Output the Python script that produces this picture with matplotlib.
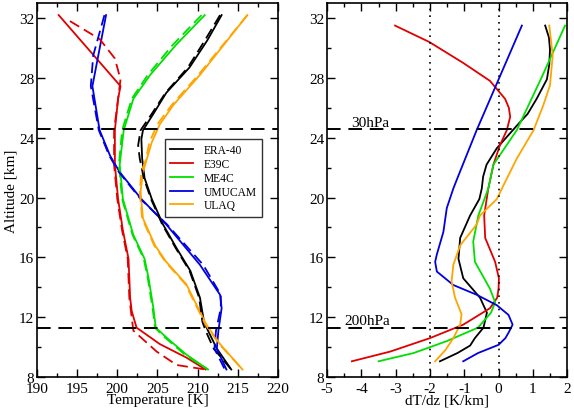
import matplotlib
matplotlib.use("Agg")
import matplotlib.pyplot as plt
from matplotlib.ticker import MultipleLocator

plt.rcParams['font.family'] = ['Liberation Serif', 'DejaVu Serif']
plt.rcParams['axes.unicode_minus'] = False

models = ['ERA-40', 'E39C', 'ME4C', 'UMUCAM', 'ULAQ']
colors = ['black', '#e00000', '#00e000', '#0000e0', '#ffa500']

# temperature profiles (solid), altitude in km
era_z = [32.2, 30.5, 28.7, 27.0, 25.6, 24.5, 23.9, 22.6, 21.3, 19.9, 18.2, 16.6, 15.1, 13.3, 11.7, 11.1, 9.9, 8.5]
era_t = [213.0, 211.2, 209.0, 206.1, 204.5, 203.2, 203.0, 203.1, 203.4, 204.3, 205.7, 207.4, 209.1, 210.3, 210.8, 211.3, 212.4, 214.2]
e39_z = [32.2, 27.45, 26.6, 24.5, 22.2, 19.9, 17.8, 15.9, 13.3, 12.4, 11.3, 10.2, 9.3, 8.5]
e39_t = [192.7, 200.4, 200.1, 199.7, 199.7, 200.1, 200.7, 201.4, 201.6, 201.8, 202.4, 205.3, 208.6, 211.0]
me4_z = [32.2, 30.2, 28.2, 26.6, 24.5, 22.2, 19.9, 17.5, 15.9, 14.6, 12.6, 11.3, 10.6, 9.5, 8.5]
me4_t = [210.9, 207.3, 204.1, 202.0, 200.8, 200.3, 200.7, 202.0, 203.4, 203.9, 204.5, 204.8, 206.2, 208.6, 211.3]
umu_z = [32.2, 27.45, 24.5, 22.8, 21.7, 19.9, 18.2, 15.5, 13.5, 12.6, 11.1, 9.9, 8.5]
umu_t = [198.6, 196.9, 197.8, 199.1, 200.3, 203.0, 206.1, 210.3, 212.8, 213.0, 212.6, 212.4, 213.6]
ulq_z = [32.2, 28.2, 26.2, 24.9, 23.7, 21.7, 20.4, 18.6, 16.8, 15.7, 14.2, 11.5, 10.2, 8.5]
ulq_t = [216.2, 210.3, 207.0, 205.3, 204.3, 203.2, 202.9, 203.2, 204.7, 206.1, 208.6, 211.1, 212.8, 215.6]

# temperature profiles (dashed)
era_zd = [32.2, 30.5, 28.7, 27.0, 25.6, 24.5, 23.5, 22.6, 21.3, 19.9, 18.2, 16.6, 15.1, 13.3, 11.7, 11.1, 9.9, 8.5]
era_td = [212.8, 210.9, 208.8, 206.0, 204.3, 202.9, 202.6, 202.8, 203.3, 204.2, 205.6, 207.3, 209.0, 210.2, 210.6, 211.0, 212.0, 214.2]
e39_zd = [31.8, 30.6, 29.3, 27.9, 26.6, 24.5, 22.2, 19.9, 17.8, 15.9, 13.3, 12.4, 11.1, 9.7, 8.8, 8.5]
e39_td = [194.1, 197.8, 199.7, 200.4, 200.1, 199.6, 199.6, 200.0, 200.6, 201.3, 201.5, 201.7, 202.0, 204.9, 207.4, 211.0]
me4_zd = [32.2, 30.2, 28.2, 26.6, 24.5, 22.2, 19.9, 17.5, 15.9, 14.6, 12.6, 11.3, 10.8, 9.5, 8.5]
me4_td = [210.5, 206.9, 203.8, 201.8, 200.6, 200.2, 200.6, 201.9, 203.3, 203.8, 204.4, 204.7, 205.6, 208.4, 211.3]
umu_zd = [32.2, 29.5, 27.45, 24.5, 22.8, 21.7, 19.9, 18.2, 15.5, 13.5, 12.6, 11.1, 9.9, 8.5]
umu_td = [198.4, 197.0, 196.7, 197.7, 199.0, 200.2, 202.9, 206.2, 210.7, 212.9, 212.9, 212.3, 212.1, 213.4]
ulq_zd = [32.2, 28.2, 26.2, 24.9, 23.7, 22.6, 21.7, 20.4, 18.6, 16.8, 15.7, 14.2, 11.5, 10.2, 8.5]
ulq_td = [216.2, 210.1, 206.8, 205.0, 204.0, 203.6, 203.0, 202.8, 203.1, 204.6, 206.0, 208.5, 211.0, 212.7, 215.6]

# lapse rate profiles
era_gz = [31.5, 30.7, 29.9, 28.9, 27.9, 26.6, 25.6, 24.8, 24.0, 23.3, 22.2, 21.4, 20.6, 19.9, 18.8, 17.3, 15.9, 14.6, 13.3, 12.3, 11.3, 10.6, 10.1, 9.6, 9.05]
era_g = [1.36, 1.47, 1.50, 1.48, 1.41, 1.11, 0.85, 0.53, 0.22, -0.05, -0.35, -0.45, -0.49, -0.56, -0.83, -1.12, -1.17, -1.03, -0.54, -0.34, -0.44, -0.69, -0.83, -1.2, -1.71]
e39_gz = [31.5, 30.4, 29.0, 27.8, 26.6, 26.0, 25.4, 24.5, 23.5, 22.2, 20.6, 18.8, 17.3, 15.7, 14.6, 13.9, 13.3, 12.6, 11.5, 10.6, 9.7, 9.05]
e39_g = [-3.02, -2.02, -1.03, -0.25, 0.19, 0.30, 0.34, 0.24, 0.04, -0.15, -0.30, -0.42, -0.39, -0.10, 0.01, 0.00, -0.04, -0.25, -1.03, -2.00, -3.16, -4.28]
me4_gz = [31.5, 28.0, 24.5, 22.2, 20.6, 18.8, 17.05, 15.7, 13.9, 13.0, 12.3, 11.3, 10.4, 9.6, 9.05]
me4_g = [1.94, 1.25, 0.53, -0.15, -0.30, -0.59, -0.74, -0.69, -0.25, -0.10, -0.22, -0.60, -1.51, -2.48, -3.50]
umu_gz = [31.5, 24.5, 21.3, 20.6, 19.3, 17.7, 16.2, 15.7, 15.05, 14.15, 13.5, 12.8, 12.15, 11.5, 11.0, 10.6, 10.15, 9.6, 9.05]
umu_g = [0.68, -0.64, -1.20, -1.32, -1.51, -1.61, -1.80, -1.85, -1.80, -1.32, -0.64, -0.05, 0.29, 0.41, 0.30, 0.20, 0.00, -0.60, -1.03]
ulq_gz = [31.5, 29.5, 27.5, 26.2, 24.5, 22.6, 20.8, 19.9, 18.8, 18.2, 16.8, 15.5, 14.4, 13.3, 12.2, 11.5, 10.6, 9.8, 9.05]
ulq_g = [1.48, 1.58, 1.50, 1.31, 1.02, 0.53, 0.14, -0.05, -0.54, -0.64, -1.12, -1.32, -1.37, -1.27, -1.08, -1.12, -1.32, -1.55, -1.85]

p_levels = ['30hPa', '200hPa']
p_alt = [24.55, 11.3]

solid_t = [era_t, e39_t, me4_t, umu_t, ulq_t]
solid_z = [era_z, e39_z, me4_z, umu_z, ulq_z]
dash_t = [era_td, e39_td, me4_td, umu_td, ulq_td]
dash_z = [era_zd, e39_zd, me4_zd, umu_zd, ulq_zd]
grad_g = [era_g, e39_g, me4_g, umu_g, ulq_g]
grad_z = [era_gz, e39_gz, me4_gz, umu_gz, ulq_gz]

fig = plt.figure(figsize=(5.74, 4.14), dpi=100)
ax1 = fig.add_axes([0.0645, 0.087, 0.4195, 0.903])
ax2 = fig.add_axes([0.570, 0.087, 0.418, 0.903])

for t, z, c, m in zip(solid_t, solid_z, colors, models):
    ax1.plot(t, z, color=c, lw=1.3, label=m)
for t, z, c in zip(dash_t, dash_z, colors):
    ax1.plot(t, z, color=c, lw=1.3, ls=(0, (6, 3)))
for a in p_alt:
    ax1.axhline(a, color='black', lw=1.4, ls=(0, (7, 4)))

for g, z, c in zip(grad_g, grad_z, colors):
    ax2.plot(g, z, color=c, lw=1.3)
for a, lab in zip(p_alt, p_levels):
    ax2.axhline(a, color='black', lw=1.4, ls=(0, (7, 4)))
    ax2.text(-4.3 if lab == '30hPa' else -4.5, a + 0.25, lab, fontsize=11)
ax2.axvline(-2, color='black', lw=1.2, ls=(0, (1, 3)))
ax2.axvline(0, color='black', lw=1.2, ls=(0, (1, 3)))

ax1.set_xlim(190, 220)
ax2.set_xlim(-5, 2)
ax1.xaxis.set_major_locator(MultipleLocator(5))
ax1.xaxis.set_minor_locator(MultipleLocator(2.5))
ax2.xaxis.set_major_locator(MultipleLocator(1))
ax2.xaxis.set_minor_locator(MultipleLocator(0.5))
for ax in (ax1, ax2):
    ax.set_ylim(8, 33)
    ax.yaxis.set_major_locator(MultipleLocator(4))
    ax.yaxis.set_minor_locator(MultipleLocator(2))
    ax.tick_params(which='both', direction='in', top=True, right=True, labelsize=11)
    ax.tick_params(axis='x', pad=3.5)
    ax.tick_params(axis='y', pad=2)
    ax.tick_params(which='major', length=6, width=1)
    ax.tick_params(which='minor', length=3, width=1)
    for s in ax.spines.values():
        s.set_linewidth(1.2)

ax1.set_xlabel('Temperature [K]', fontsize=11, labelpad=-1)
ax1.set_ylabel('Altitude [km]', fontsize=11, labelpad=1)
ax2.set_xlabel('dT/dz [K/km]', fontsize=11, labelpad=-1)

leg = ax1.legend(loc='upper left', bbox_to_anchor=(0.531, 0.636), fontsize=8.3,
                 frameon=True, fancybox=False, edgecolor='black', handlelength=2.0,
                 borderpad=0.45, labelspacing=0.15, handletextpad=0.9, borderaxespad=0)
leg.get_frame().set_linewidth(1.0)

fig.savefig('out.png', dpi=100)
